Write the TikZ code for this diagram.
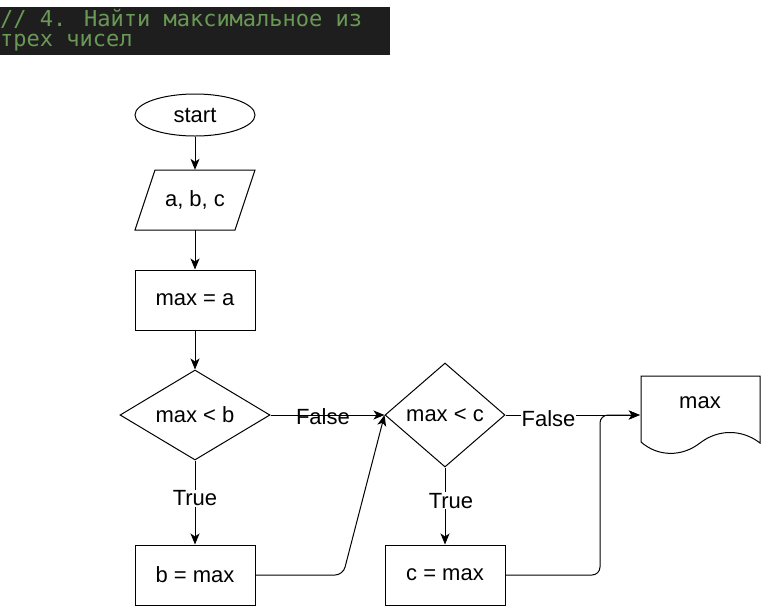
\documentclass[tikz,border=0pt]{standalone}
\usepackage{fontspec}
\setmainfont{Liberation Sans}
\newfontfamily\codefont{DejaVu Sans Mono}
\usetikzlibrary{shapes.geometric,arrows.meta}
\definecolor{codebg}{HTML}{1E1E1E}
\definecolor{codegreen}{HTML}{6A9955}
\begin{document}
\begin{tikzpicture}[x=1pt,y=-1pt,
  base/.style={draw=black,line width=1pt,font=\fontsize{22}{26}\selectfont,inner sep=0pt},
  procbox/.style={base,rectangle,minimum width=120pt,minimum height=60pt},
  flow/.style={line width=1pt,-{Stealth[length=11pt,width=9pt,inset=3pt]}},
  lbl/.style={font=\fontsize{22}{26}\selectfont,inner sep=1pt},
  code/.style={font=\codefont\fontsize{22}{24}\selectfont,text=codegreen,inner sep=0pt,anchor=west}
]
\useasboundingbox (0,0) rectangle (761,606);
% header
\fill[codebg] (0,7) rectangle (390,55);
\node[code] (h1) at (0,19) {// 4. Найти максимальное из};
\node[code] (h2) at (0,43) {трех чисел};

% nodes
\node[base,ellipse,minimum width=120pt,minimum height=42pt] (start) at (195,115) {start};
\node[inner sep=0pt,minimum width=120pt,minimum height=60pt,font=\fontsize{22}{26}\selectfont] (io) at (195,200) {a, b, c};
\draw[line width=1pt] (155,170) -- (255,170) -- (235,230) -- (135,230) -- cycle;
\node[procbox] (init) at (195,300) {max = a};
\node[base,diamond,minimum width=150pt,minimum height=90pt,aspect=1.667] (d1) at (195,415) {max < b};
\node[procbox] (b1) at (195,575) {b = max};
\node[base,diamond,minimum width=120pt,minimum height=104pt,aspect=1.15] (d2) at (445,415) {max < c};
\node[procbox] (c1) at (445,575) {c = max};
\node[inner sep=0pt,minimum width=120pt,minimum height=56pt,anchor=north] (out) at (700,376) {};
\node[font=\fontsize{22}{26}\selectfont,inner sep=0pt] (outtxt) at (700,403) {max};
\draw[line width=1pt] (641,442) -- (641,376) -- (760,376) -- (760,443)
  .. controls (742,429) and (718,429) .. (700,443)
  .. controls (682,457) and (658,457) .. (641,442);

% connectors
\draw[flow] (start.south) -- (io.north);
\draw[flow] (io.south) -- (init.north);
\draw[flow] (init.south) -- (d1.north);
\draw[flow] (d1.south) -- node[lbl,fill=white,pos=0.45] (t1) {True} (b1.north);
\draw[flow] (d2.south) -- node[lbl,fill=white,pos=0.43,xshift=6pt] (t2) {True} (c1.north);
\draw[flow] (d1.east) -- node[lbl,pos=0.46,yshift=-2pt] (f1) {False} (d2.west);
\draw[flow] (d2.east) -- node[lbl,fill=white,pos=0.32,yshift=-4pt] (f2) {False} (out.west |- d2.east);
\draw[flow,rounded corners=8pt] (b1.east) -- (343,575) -- (d2.west);
\draw[flow,rounded corners=8pt] (c1.east) -- (600,575) -- (600,415) -- (out.west |- d2.east);
\end{tikzpicture}
\end{document}
